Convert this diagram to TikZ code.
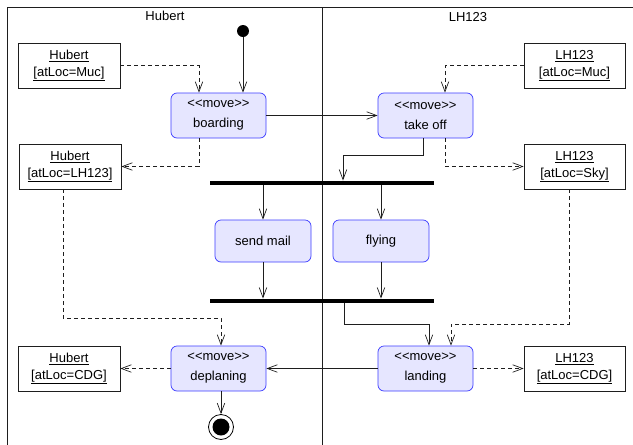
\documentclass[tikz,border=0pt]{standalone}
\usepackage{fontspec}
\setmainfont{Liberation Sans}
\usetikzlibrary{arrows.meta,calc}
\definecolor{actfill}{RGB}{230,230,255}
\definecolor{actdraw}{RGB}{60,60,255}
\definecolor{ln}{RGB}{30,30,30}
\newcommand{\mv}{<\kern0pt<move>\kern0pt>}
\tikzset{
  act/.style={draw=actdraw, fill=actfill, rounded corners=6pt, line width=0.7pt,
    minimum width=95pt, minimum height=45pt, align=center, inner sep=0pt,
    font=\fontsize{13}{20}\selectfont},
  obj/.style={draw=ln, line width=0.7pt, minimum width=102pt, minimum height=45pt,
    align=center, inner sep=0pt, font=\fontsize{13}{17}\selectfont},
  bar/.style={fill=black, draw=none, minimum width=224pt, minimum height=4.5pt, inner sep=0pt},
  flow/.style={ln, line width=0.7pt, -{Straight Barb[length=10pt,width=7.5pt]}},
  oflow/.style={flow, dashed, dash pattern=on 4pt off 3pt},
  lane/.style={ln, line width=0.8pt},
  title/.style={font=\fontsize{13}{15}\selectfont}
}
\begin{document}
\begin{tikzpicture}[x=1pt,y=-1pt]
\useasboundingbox (0,0) rectangle (633,445);
% frame and lanes
\draw[lane] (7,445) -- (7,7) -- (633,7);
\draw[lane] (322,7) -- (322,445);
\node[title] (tH) at (165,16) {Hubert};
\node[title] (tL) at (468,17) {LH123};
% nodes
\node[circle, fill=black, minimum size=12pt, inner sep=0pt] (init) at (243,31) {};
\node[act] (boarding) at (218.5,115.5) {\mv\\boarding};
\node[act] (takeoff) at (425.5,115.5) {\mv\\take off};
\node[act, minimum height=42pt, minimum width=96pt] (sendmail) at (263,241) {send mail};
\node[act, minimum height=42pt, minimum width=96pt] (flying) at (381,241) {flying};
\node[act] (deplaning) at (218.5,368.5) {\mv\\deplaning};
\node[act] (landing) at (425.5,368.5) {\mv\\landing};
\node[bar] (fork) at (322,183) {};
\node[bar] (join) at (322,301) {};
\node[obj] (HMuc) at (69,65.5) {\underline{Hubert}\\\underline{[atLoc=Muc]}};
\node[obj] (HLH) at (70,166.5) {\underline{Hubert}\\\underline{[atLoc=LH123]}};
\node[obj] (HCDG) at (69,368.5) {\underline{Hubert}\\\underline{[atLoc=CDG]}};
\node[obj, minimum width=101pt] (LMuc) at (574.5,65.5) {\underline{LH123}\\\underline{[atLoc=Muc]}};
\node[obj, minimum width=101pt] (LSky) at (574.5,166.5) {\underline{LH123}\\\underline{[atLoc=Sky]}};
\node[obj, minimum width=101pt] (LCDG) at (574.5,368.5) {\underline{LH123}\\\underline{[atLoc=CDG]}};
\node[circle, draw=black, line width=0.8pt, minimum size=25pt, inner sep=0pt] (final) at (221,427) {};
\node[circle, fill=black, minimum size=17pt, inner sep=0pt] (finalin) at (final.center) {};
% control flows
\draw[flow] (init) -- (init |- boarding.north);
\draw[flow] (boarding.east) -- (takeoff.west);
\draw[flow] ([xshift=-2.5pt]takeoff.south) -- ++(0,17) -| ([xshift=21pt]fork.north);
\draw[flow] (fork.south -| sendmail.north) -- (sendmail.north);
\draw[flow] (fork.south -| flying.north) -- (flying.north);
\draw[flow] (sendmail.south) -- (sendmail.south |- join.north);
\draw[flow] (flying.south) -- (flying.south |- join.north);
\draw[flow] ([xshift=22pt]join.south) -- ++(0,21) -| ([xshift=3.5pt]landing.north);
\draw[flow] (landing.west) -- (deplaning.east);
\draw[flow] ([xshift=2.5pt]deplaning.south) -- (final.north);
% object flows
\draw[oflow] (HMuc.east) -| ([xshift=-19.5pt]boarding.north);
\draw[oflow] ([xshift=-19.5pt]boarding.south) |- (HLH.east);
\draw[oflow] (LMuc.west) -| ([xshift=19.5pt]takeoff.north);
\draw[oflow] ([xshift=19.5pt]takeoff.south) |- (LSky.west);
\draw[oflow] ([xshift=-5.5pt]LSky.south) -- ++(0,135) -| ([xshift=25.5pt]landing.north);
\draw[oflow] ([xshift=-7pt]HLH.south) -- ++(0,129) -| ([xshift=2.5pt]deplaning.north);
\draw[oflow] (deplaning.west) -- (HCDG.east);
\draw[oflow] (landing.east) -- (LCDG.west);
\end{tikzpicture}
\end{document}
